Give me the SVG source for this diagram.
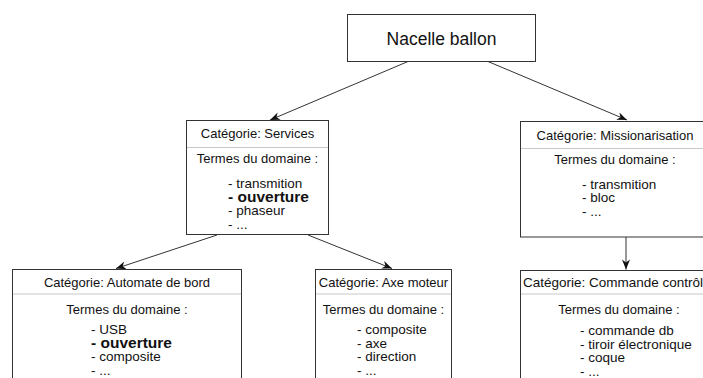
<svg xmlns="http://www.w3.org/2000/svg" width="703" height="378" viewBox="0 0 703 378">
<defs>
<style>
.box{fill:#fff;stroke:#333;stroke-width:1}
.sep{stroke:#c8c8c8;stroke-width:1}
text{font-family:"Liberation Sans",Arial,sans-serif;font-size:13px;fill:#111}
.c{text-anchor:middle}
.l{font-size:13.5px}
.b{font-weight:bold;font-size:15.5px}
.title{font-size:17.5px}
.conn{stroke:#333;stroke-width:1;fill:none;marker-end:url(#arr)}
</style>
<marker id="arr" viewBox="0 0 10 8" refX="10" refY="4" markerWidth="11" markerHeight="8" markerUnits="userSpaceOnUse" orient="auto">
<path d="M0,0 L10,4 L0,8 L3,4 z" fill="#111"/>
</marker>
</defs>
<rect width="703" height="378" fill="#fff"/>
<g id="connectors">
<line class="conn" x1="408" y1="61.5" x2="270" y2="120"/>
<line class="conn" x1="488" y1="61.5" x2="627" y2="120"/>
<line class="conn" x1="217" y1="235" x2="116" y2="268.5"/>
<line class="conn" x1="308" y1="235" x2="392" y2="268.5"/>
<line class="conn" x1="626" y1="237" x2="626" y2="269.5"/>
</g>
<g id="nacelle">
<rect class="box" x="347.5" y="14.5" width="188" height="47"/>
<text class="c title" x="441.5" y="45">Nacelle ballon</text>
</g>
<g id="services">
<rect class="box" x="186.5" y="120.5" width="142" height="114"/>
<line class="sep" x1="187" y1="147.5" x2="328" y2="147.5"/>
<text class="c" x="257.5" y="138">Catégorie: Services</text>
<text class="c" x="257.5" y="163">Termes du domaine :</text>
<text class="l" x="228" y="188">- transmition</text>
<text class="b" x="228" y="201.5">- ouverture</text>
<text class="l" x="228" y="215">- phaseur</text>
<text class="l" x="228" y="228.5">- ...</text>
</g>
<g id="missionarisation">
<rect class="box" x="520.5" y="121.5" width="200" height="115.5"/>
<line class="sep" x1="521" y1="148.5" x2="720" y2="148.5"/>
<text class="c" x="615" y="139.5">Catégorie: Missionarisation</text>
<text class="c" x="615" y="164">Termes du domaine :</text>
<text class="l" x="582" y="188.5">- transmition</text>
<text class="l" x="582" y="202">- bloc</text>
<text class="l" x="582" y="215.5">- ...</text>
</g>
<g id="automate">
<rect class="box" x="12.5" y="269.5" width="229" height="120"/>
<line class="sep" x1="13" y1="294" x2="241" y2="294"/>
<text class="c" x="127" y="287">Catégorie: Automate de bord</text>
<text class="c" x="127" y="314">Termes du domaine :</text>
<text class="l" x="91" y="334">- USB</text>
<text class="b" x="91" y="347.5">- ouverture</text>
<text class="l" x="91" y="361">- composite</text>
<text class="l" x="91" y="375">- ...</text>
</g>
<g id="axemoteur">
<rect class="box" x="315.5" y="269.5" width="136" height="120"/>
<line class="sep" x1="316" y1="294" x2="451" y2="294"/>
<text class="c" x="383.5" y="287">Catégorie: Axe moteur</text>
<text class="c" x="383.5" y="314">Termes du domaine :</text>
<text class="l" x="357" y="334">- composite</text>
<text class="l" x="357" y="347.5">- axe</text>
<text class="l" x="357" y="361">- direction</text>
<text class="l" x="357" y="375">- ...</text>
</g>
<g id="commande">
<rect class="box" x="520.5" y="270.5" width="200" height="120"/>
<line class="sep" x1="521" y1="294" x2="720" y2="294"/>
<text class="l" x="523" y="287">Catégorie: Commande contrôle</text>
<text class="c" x="619" y="314">Termes du domaine :</text>
<text class="l" x="580" y="335">- commande db</text>
<text class="l" x="580" y="348.5">- tiroir électronique</text>
<text class="l" x="580" y="362">- coque</text>
<text class="l" x="580" y="376">- ...</text>
</g>
</svg>
